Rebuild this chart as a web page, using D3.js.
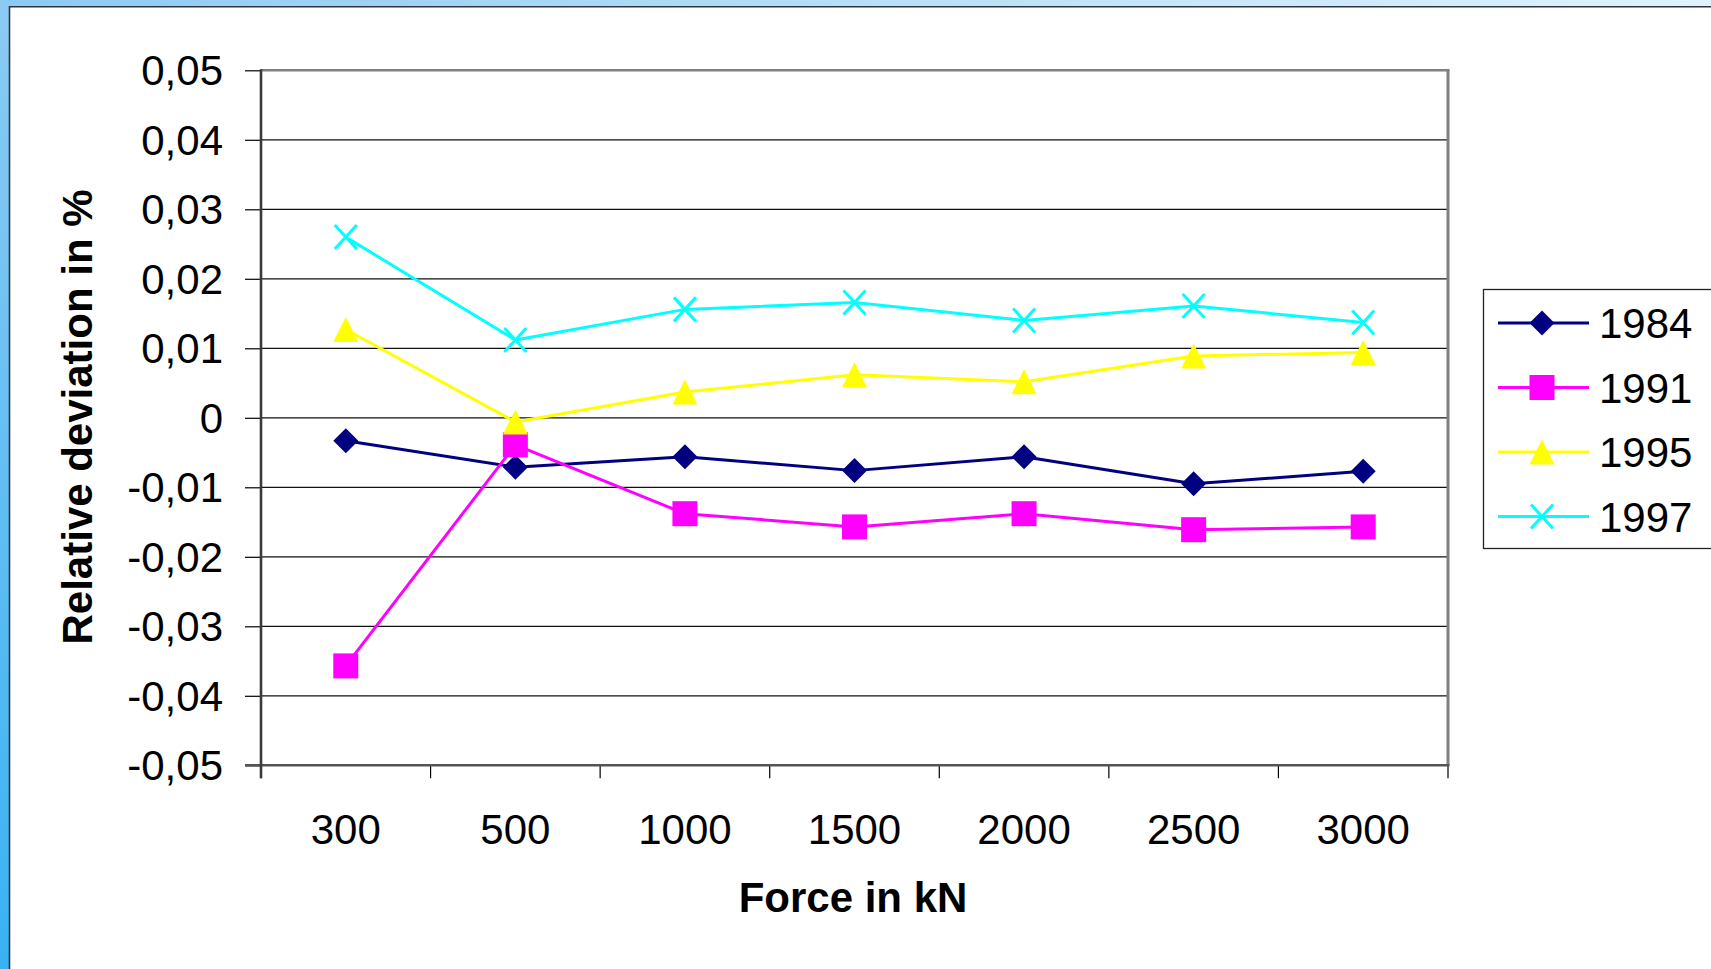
<!DOCTYPE html>
<html>
<head>
<meta charset="utf-8">
<script src="https://cdn.jsdelivr.net/npm/d3@7"></script>
<style>
  html, body { margin: 0; padding: 0; background: #ffffff; }
  svg { display: block; }
  text { font-family: "Liberation Sans", Arial, sans-serif; fill: #000; }
</style>
</head>
<body>
<svg id="chart" width="1711" height="969"></svg>
<script>
// Force steps (kN) on the category axis
const forces = ["300", "500", "1000", "1500", "2000", "2500", "3000"];

// Relative deviation in % per calibration year
const dev1984 = [-0.0033, -0.0071, -0.0056, -0.0076, -0.0056, -0.0095, -0.0077];
const dev1991 = [-0.0357, -0.0039, -0.0138, -0.0157, -0.0138, -0.0161, -0.0157];
const dev1995 = [0.0127, -0.0006, 0.0037, 0.0062, 0.0052, 0.0089, 0.0094];
const dev1997 = [0.0260, 0.0112, 0.0156, 0.0166, 0.0140, 0.0161, 0.0137];

const seriesNames = ["1984", "1991", "1995", "1997"];

// Value axis ticks and their labels (decimal comma)
const yTickValues = [0.05, 0.04, 0.03, 0.02, 0.01, 0, -0.01, -0.02, -0.03, -0.04, -0.05];
const yTickLabels = ["0,05", "0,04", "0,03", "0,02", "0,01", "0", "-0,01", "-0,02", "-0,03", "-0,04", "-0,05"];

const series = [
  { name: seriesNames[0], values: dev1984, color: "#000080", marker: "diamond" },
  { name: seriesNames[1], values: dev1991, color: "#ff00ff", marker: "square" },
  { name: seriesNames[2], values: dev1995, color: "#ffff00", marker: "triangle" },
  { name: seriesNames[3], values: dev1997, color: "#00ffff", marker: "cross" }
];

const svg = d3.select("#chart");
const W = 1711, H = 969;
const plot = { left: 261, right: 1448, top: 70.3, bottom: 765.3 };

// ---- window frame (blue strips with dark edge) ----
const defs = svg.append("defs");
const gTop = defs.append("linearGradient").attr("id", "frameTop").attr("x1", 0).attr("x2", 1).attr("y1", 0).attr("y2", 0);
gTop.append("stop").attr("offset", 0).attr("stop-color", "#8ccaf3");
gTop.append("stop").attr("offset", 1).attr("stop-color", "#e0f3fc");
const gLeft = defs.append("linearGradient").attr("id", "frameLeft").attr("x1", 0).attr("x2", 0).attr("y1", 0).attr("y2", 1);
gLeft.append("stop").attr("offset", 0).attr("stop-color", "#8ccaf3");
gLeft.append("stop").attr("offset", 1).attr("stop-color", "#38b2f2");

svg.append("rect").attr("x", 0).attr("y", 0).attr("width", W).attr("height", 6).attr("fill", "url(#frameTop)");
svg.append("rect").attr("x", 0).attr("y", 0).attr("width", 9).attr("height", H).attr("fill", "url(#frameLeft)");
svg.append("line").attr("x1", 9).attr("x2", W).attr("y1", 6.7).attr("y2", 6.7)
  .attr("stroke", "#2f3640").attr("stroke-width", 1.6);
svg.append("line").attr("x1", 9.5).attr("x2", 9.5).attr("y1", 6).attr("y2", H)
  .attr("stroke", "#2f3640").attr("stroke-width", 1.6);

// ---- scales ----
const x = d3.scaleBand().domain(forces).range([plot.left, plot.right]).padding(0);
const xc = d => x(d) + x.bandwidth() / 2;
const y = d3.scaleLinear().domain([-0.05, 0.05]).range([plot.bottom, plot.top]);

// ---- gridlines ----
svg.append("g").selectAll("line")
  .data(yTickValues.filter(v => v !== 0.05 && v !== -0.05))
  .join("line")
  .attr("x1", plot.left).attr("x2", plot.right)
  .attr("y1", d => y(d)).attr("y2", d => y(d))
  .attr("stroke", "#111").attr("stroke-width", 1.3);

// plot frame: grey top and right
svg.append("line").attr("x1", plot.left).attr("x2", plot.right + 1.5)
  .attr("y1", plot.top).attr("y2", plot.top)
  .attr("stroke", "#808080").attr("stroke-width", 2.6);
svg.append("line").attr("x1", plot.right).attr("x2", plot.right)
  .attr("y1", plot.top).attr("y2", plot.bottom)
  .attr("stroke", "#808080").attr("stroke-width", 3);

// ---- y axis ----
const yAxis = d3.axisLeft(y)
  .tickValues(yTickValues)
  .tickSize(16)
  .tickPadding(22)
  .tickFormat((d, i) => yTickLabels[i]);
const gy = svg.append("g").attr("transform", `translate(${plot.left},0)`).call(yAxis);
gy.select(".domain").remove();
gy.selectAll(".tick line").attr("stroke", "#000").attr("stroke-width", 1.2);
gy.selectAll(".tick text")
  .attr("font-size", 42)
  .attr("dy", "0.34em")
  .attr("font-family", "Liberation Sans, Arial, sans-serif");

// ---- x axis (labels at category centres, ticks between categories) ----
const xAxis = d3.axisBottom(x).tickSize(0).tickPadding(49);
const gx = svg.append("g").attr("transform", `translate(0,${plot.bottom})`).call(xAxis);
gx.select(".domain").remove();
gx.selectAll(".tick text")
  .attr("font-size", 42)
  .attr("font-family", "Liberation Sans, Arial, sans-serif");

const boundaries = forces.map(d => x(d)).concat([x.range()[1]]);
svg.append("g").selectAll("line")
  .data(boundaries)
  .join("line")
  .attr("x1", d => d).attr("x2", d => d)
  .attr("y1", plot.bottom).attr("y2", plot.bottom + 13)
  .attr("stroke", "#000").attr("stroke-width", 1.2);

// axis lines
svg.append("line").attr("x1", plot.left - 16).attr("x2", plot.right + 1.5)
  .attr("y1", plot.bottom).attr("y2", plot.bottom)
  .attr("stroke", "#555").attr("stroke-width", 2.4);
svg.append("line").attr("x1", plot.left).attr("x2", plot.left)
  .attr("y1", plot.top - 1).attr("y2", plot.bottom + 13)
  .attr("stroke", "#3a3a3a").attr("stroke-width", 2.6);

// ---- axis titles ----
svg.append("text")
  .attr("transform", "translate(92,417) rotate(-90)")
  .attr("text-anchor", "middle")
  .attr("font-size", 42).attr("font-weight", "bold")
  .text("Relative deviation in %");
svg.append("text")
  .attr("x", (plot.left + plot.right) / 2 - 1.5).attr("y", 912)
  .attr("text-anchor", "middle")
  .attr("font-size", 42).attr("font-weight", "bold")
  .text("Force in kN");

// ---- markers ----
function drawMarker(g, type, color) {
  const s = 12.5;
  if (type === "diamond") {
    g.append("path").attr("d", `M0,${-s}L${s},0L0,${s}L${-s},0Z`).attr("fill", color);
  } else if (type === "square") {
    g.append("rect").attr("x", -s).attr("y", -s).attr("width", 2 * s).attr("height", 2 * s).attr("fill", color);
  } else if (type === "triangle") {
    g.append("path").attr("d", `M0,${-s}L${s},${s}L${-s},${s}Z`).attr("fill", color);
  } else if (type === "cross") {
    g.append("path").attr("d", `M-11,-12L11,12M-11,12L11,-12`)
      .attr("stroke", color).attr("stroke-width", 3).attr("fill", "none");
  }
}

const line = d3.line().x((d, i) => xc(forces[i])).y(d => y(d));

series.forEach(s => {
  const g = svg.append("g");
  g.append("path").datum(s.values)
    .attr("d", line)
    .attr("fill", "none")
    .attr("stroke", s.color)
    .attr("stroke-width", 3)
    .attr("stroke-linejoin", "round");
  s.values.forEach((v, i) => {
    const m = g.append("g").attr("transform", `translate(${xc(forces[i])},${y(v)})`);
    drawMarker(m, s.marker, s.color);
  });
});

// ---- legend ----
const legend = svg.append("g");
legend.append("rect")
  .attr("x", 1483.5).attr("y", 289.5)
  .attr("width", 260).attr("height", 259)
  .attr("fill", "#fff").attr("stroke", "#222").attr("stroke-width", 1.3);
const ly = d3.scalePoint().domain(seriesNames).range([323, 516.5]);
series.forEach(s => {
  const row = legend.append("g").attr("transform", `translate(0,${ly(s.name)})`);
  row.append("line").attr("x1", 1498).attr("x2", 1589).attr("y1", 0).attr("y2", 0)
    .attr("stroke", s.color).attr("stroke-width", 3);
  const m = row.append("g").attr("transform", "translate(1542,0)");
  drawMarker(m, s.marker, s.color);
  row.append("text").attr("x", 1599).attr("y", 0).attr("dy", "0.36em")
    .attr("font-size", 42).text(s.name);
});
</script>
</body>
</html>
